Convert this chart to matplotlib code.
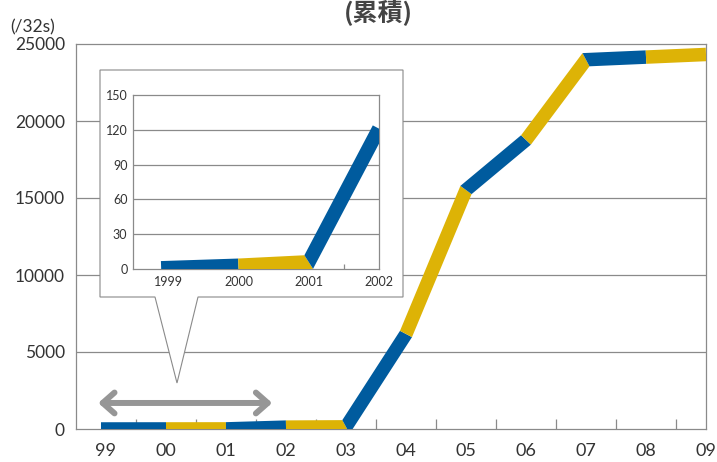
import numpy as np
import matplotlib
matplotlib.use("Agg")
import matplotlib.pyplot as plt
from matplotlib.patches import Polygon, PathPatch
from matplotlib.path import Path

# ---------------- data ----------------
years_main = ['99', '00', '01', '02', '03', '04', '05', '06', '07', '08', '09']
values_main = [1, 3, 6, 121, 140, 6170, 15520, 18770, 23980, 24150, 24320]

years_inset = ['1999', '2000', '2001', '2002']
values_inset = [1, 3, 6, 121]

main_yticks = [0, 5000, 10000, 15000, 20000, 25000]
inset_yticks = [0, 30, 60, 90, 120, 150]

BLUE = '#005B9E'
YELLOW = '#DDB306'
GRID = '#8a8a8a'
TXT = '#333333'

plt.rcParams['font.family'] = ['Lato', 'DejaVu Sans']

W, H = 717, 462
fig = plt.figure(figsize=(W / 100, H / 100), dpi=100)


def fx(px):
    return px / W


def fy(py):
    return 1 - py / H


def seg_polys(ax, xs, ys, width_px, start_ext_px):
    pts = ax.transData.transform(np.column_stack([xs, ys]).astype(float))
    n = len(pts)
    d = np.diff(pts, axis=0)
    u = d / np.hypot(d[:, 0], d[:, 1])[:, None]
    nrm = np.column_stack([-u[:, 1], u[:, 0]])
    hw = width_px / 2.0
    L = np.zeros((n, 2))
    R = np.zeros((n, 2))
    p0 = pts[0] - u[0] * start_ext_px
    L[0] = p0 + nrm[0] * hw
    R[0] = p0 - nrm[0] * hw
    L[-1] = pts[-1] + nrm[-1] * hw
    R[-1] = pts[-1] - nrm[-1] * hw
    for j in range(1, n - 1):
        m = nrm[j - 1] + nrm[j]
        m = m / np.hypot(*m)
        c = np.dot(m, nrm[j])
        off = m * hw / c
        L[j] = pts[j] + off
        R[j] = pts[j] - off
    inv = ax.transData.inverted()
    polys = []
    for i in range(n - 1):
        quad = np.array([L[i], L[i + 1], R[i + 1], R[i]])
        polys.append(inv.transform(quad))
    return polys


def style_axes(ax, spine_color=GRID):
    for s in ax.spines.values():
        s.set_color(spine_color)
        s.set_linewidth(0.9)


# ---------------- main axes ----------------
ax = fig.add_axes([fx(76), fy(429), fx(706) - fx(76), fy(44) - fy(429)])
x_main = np.arange(len(years_main))
ax.set_xlim(-0.5, len(years_main) - 1)
ax.set_ylim(0, 25000)
style_axes(ax)
ax.set_yticks(main_yticks)
ax.set_yticklabels([str(v) for v in main_yticks])
ax.set_xticks(x_main)
ax.set_xticklabels(years_main)
ax.set_xticks(x_main[:-1] + 0.5, minor=True)
ax.tick_params(axis='y', length=0, pad=8, labelsize=12.5, labelcolor=TXT)
ax.tick_params(axis='x', which='major', length=0, pad=10, labelsize=13, labelcolor=TXT)
ax.tick_params(axis='x', which='minor', direction='in', length=7.2, width=0.9, color=GRID)
for v in main_yticks[1:-1]:
    ax.axhline(v, color=GRID, lw=0.9, zorder=1)

for i, poly in enumerate(seg_polys(ax, x_main, values_main, 13.5, 5)):
    ax.add_patch(Polygon(poly, closed=True, facecolor=BLUE if i % 2 == 0 else YELLOW,
                         edgecolor='none', lw=0, zorder=3))

# gray double arrow below callout
ax.annotate('', xy=(2.77, 1690), xytext=(-0.13, 1690),
            arrowprops=dict(arrowstyle='<->,head_length=0.85,head_width=0.75',
                            lw=4.3, color='#969696', mutation_scale=10,
                            shrinkA=0, shrinkB=0), zorder=4)

# ---------------- callout shape ----------------
callout_px = [(100, 70), (403, 70), (403, 297), (198, 297), (177, 383),
              (155, 297), (100, 297), (100, 70)]
verts = [(fx(a), fy(b)) for a, b in callout_px]
codes = [Path.MOVETO] + [Path.LINETO] * (len(verts) - 2) + [Path.CLOSEPOLY]
callout = PathPatch(Path(verts, codes), transform=fig.transFigure,
                    facecolor='white', edgecolor=GRID, lw=0.8, zorder=1)
fig.patches.append(callout)

# ---------------- inset axes ----------------
axi = fig.add_axes([fx(133), fy(269), fx(379) - fx(133), fy(95) - fy(269)], zorder=2)
x_in = np.arange(len(years_inset))
axi.set_xlim(-0.5, len(years_inset) - 1)
axi.set_ylim(0, 150)
style_axes(axi)
axi.set_yticks(inset_yticks)
axi.set_yticklabels([str(v) for v in inset_yticks])
axi.set_xticks(x_in)
axi.set_xticklabels(years_inset)
axi.set_xticks(x_in[:-1] + 0.5, minor=True)
axi.tick_params(axis='y', length=0, pad=4, labelsize=9, labelcolor=TXT)
axi.tick_params(axis='x', which='major', length=0, pad=5, labelsize=9, labelcolor=TXT)
axi.tick_params(axis='x', which='minor', direction='in', length=3.6, width=0.9, color=GRID)
for v in inset_yticks[1:-1]:
    axi.axhline(v, color=GRID, lw=0.9, zorder=1)

for i, poly in enumerate(seg_polys(axi, x_in, values_inset, 14, 7)):
    axi.add_patch(Polygon(poly, closed=True, facecolor=BLUE if i % 2 == 0 else YELLOW,
                          edgecolor='none', lw=0, zorder=3))

# ---------------- texts ----------------
fig.text(fx(10), fy(27), '(/32s)', fontsize=12.5, color=TXT, ha='left', va='center')
fig.text(fx(378), fy(0), '(累積)', fontsize=18, fontweight='bold', color='#444444',
         ha='center', va='top', family=['Noto Sans CJK JP', 'DejaVu Sans'])

fig.savefig('out.png', dpi=100)
